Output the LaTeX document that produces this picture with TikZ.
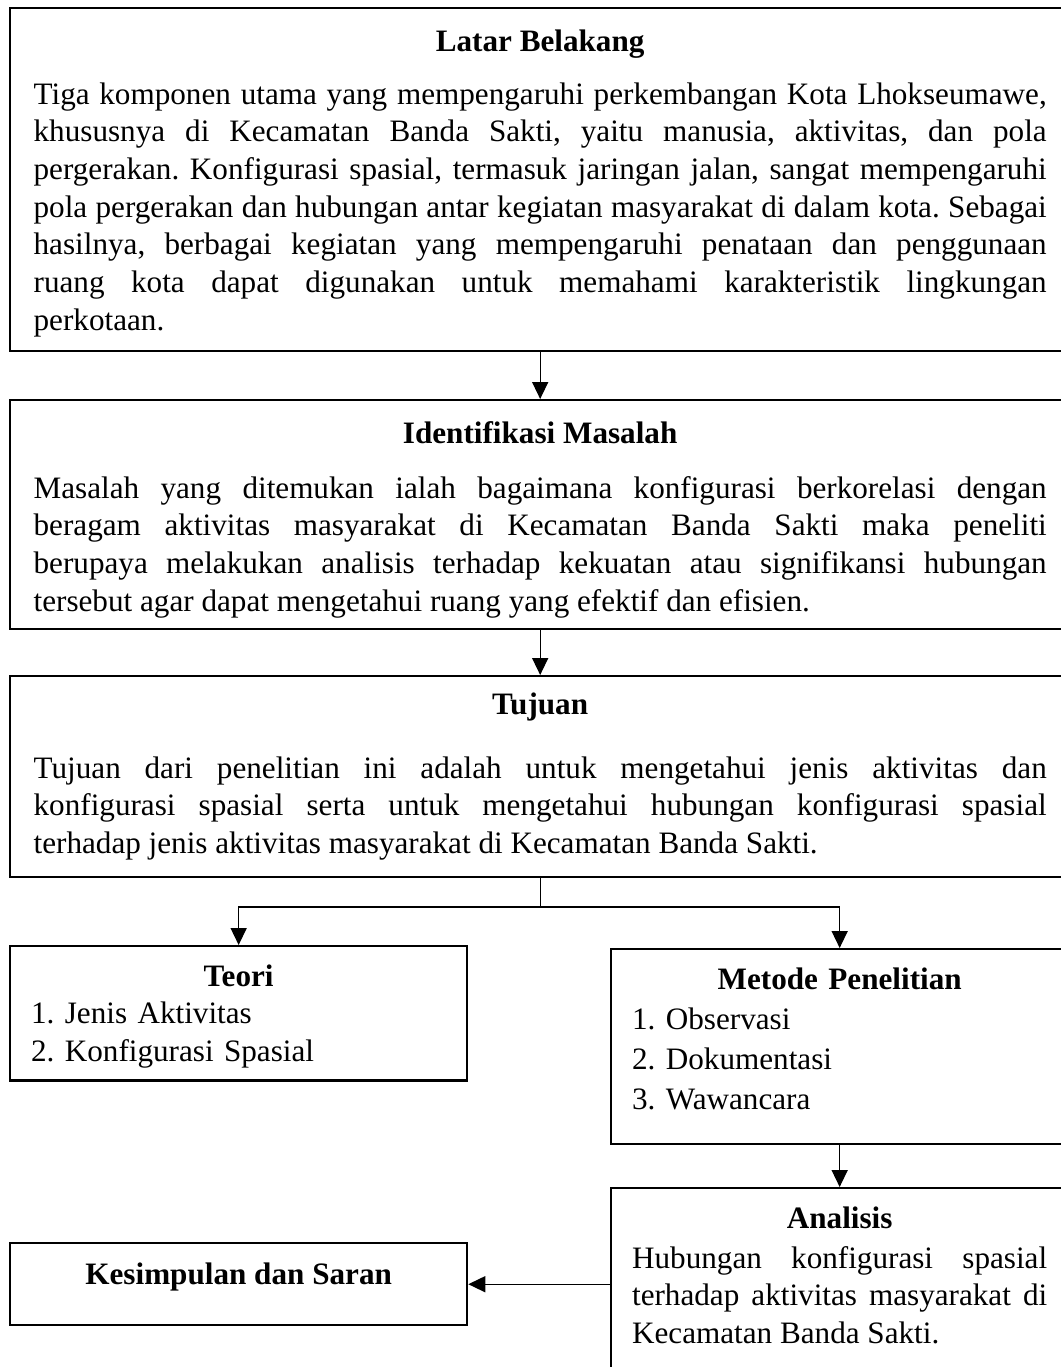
\documentclass[tikz,border=0pt]{standalone}
\usepackage{fontspec}
\setmainfont{Liberation Serif}
\usetikzlibrary{arrows.meta}
\hyphenpenalty=10000
\exhyphenpenalty=10000
\frenchspacing
\newcommand{\topgap}[1]{\rule{0pt}{#1}}
\newcommand{\botgap}[1]{\rule[-#1]{0pt}{#1}}

\begin{document}
\begin{tikzpicture}
	[x=0.43pt,y=-0.43pt,
	 box/.style={draw,line width=1pt,anchor=north west,inner xsep=9pt,inner ysep=0pt,
		font=\fontsize{13.4pt}{16.2pt}\selectfont\frenchspacing},
	 widebox/.style={box,align=justify,text width=435.6pt,minimum width=455.8pt},
	 smallbox/.style={box,text width=178.5pt},
	 flow/.style={-{Triangle[length=7.3pt,width=6.9pt]},line width=0.55pt}];
\useasboundingbox (0,0) rectangle (1060,1367);

\node[widebox] (latar) at (9,7) {{\centering\bfseries Latar Belakang\topgap{18.5pt}\par}\vspace{6.6pt}
	Tiga komponen utama yang mempengaruhi perkembangan Kota Lhokseumawe,\linebreak
	khususnya di Kecamatan Banda Sakti, yaitu manusia, aktivitas, dan pola\linebreak
	pergerakan. Konfigurasi spasial, termasuk jaringan jalan, sangat mempengaruhi\linebreak
	pola pergerakan dan hubungan antar kegiatan masyarakat di dalam kota. Sebagai\linebreak
	hasilnya, berbagai kegiatan yang mempengaruhi penataan dan penggunaan\linebreak
	ruang kota dapat digunakan untuk memahami karakteristik lingkungan\linebreak
	perkotaan.\botgap{9pt}};
\node[widebox] (masalah) at (9,399) {{\centering\bfseries Identifikasi Masalah\topgap{18.5pt}\par}\vspace{7.4pt}
	Masalah yang ditemukan ialah bagaimana konfigurasi berkorelasi dengan\linebreak
	beragam aktivitas masyarakat di Kecamatan Banda Sakti maka peneliti\linebreak
	berupaya melakukan analisis terhadap kekuatan atau signifikansi hubungan\linebreak
	tersebut agar dapat mengetahui ruang yang efektif dan efisien.\botgap{7.7pt}};
\node[widebox] (tujuan) at (9,675) {{\centering\bfseries Tujuan\topgap{16.3pt}\par}\vspace{11.3pt}
	Tujuan dari penelitian ini adalah untuk mengetahui jenis aktivitas dan\linebreak
	konfigurasi spasial serta untuk mengetahui hubungan konfigurasi spasial\linebreak
	terhadap jenis aktivitas masyarakat di Kecamatan Banda Sakti.\botgap{10.3pt}};

\node[smallbox] (teori) at (9,945) {{\centering\bfseries Teori\topgap{17.2pt}\par}\raggedright
	1. Jenis Aktivitas\par
	2. Konfigurasi Spasial\botgap{8.2pt}};
\node[smallbox] (metode) at (610,948) {{\centering\bfseries Metode Penelitian\topgap{17.2pt}\par}\vspace{1pt}\raggedright
	1. Observasi\par\vspace{1pt}
	2. Dokumentasi\par\vspace{1pt}
	3. Wawancara\botgap{15pt}};
\node[smallbox,align=justify] (analisis) at (610,1187) {{\centering\bfseries Analisis\topgap{17.2pt}\par}\vspace{1pt}
	Hubungan konfigurasi spasial\linebreak
	terhadap aktivitas masyarakat di\linebreak
	Kecamatan Banda Sakti.\botgap{18pt}};
\node[box,minimum width=196.5pt,minimum height=35.3pt,text height=8pt,text depth=8pt,
	font=\fontsize{13.4pt}{16.2pt}\selectfont\bfseries] (kesimpulan) at (9,1242) {Kesimpulan dan Saran};

% alur
\coordinate (cabang) at (tujuan.south |- 0,907);
\draw[flow] (latar) -- (masalah);
\draw[flow] (masalah) -- (tujuan);
\draw[line width=0.55pt] (tujuan) -- (cabang);
\draw[flow] (cabang) -| (teori);
\draw[flow] (cabang) -| (metode);
\draw[flow] (metode) -- (analisis);
\draw[flow] (analisis.west |- kesimpulan) -- (kesimpulan);
\end{tikzpicture}
\end{document}
